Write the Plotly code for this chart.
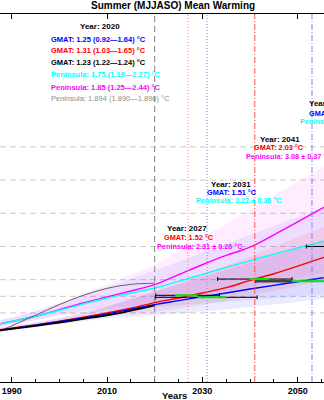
import plotly.graph_objects as go

# ---------------- data ----------------
years = [1985, 1990, 1995, 2000, 2005, 2010, 2015, 2020, 2025, 2030, 2035, 2040, 2045, 2050, 2055, 2060]
gmat_blue = [0.43, 0.53, 0.63, 0.74, 0.85, 0.97, 1.11, 1.25, 1.37, 1.49, 1.60, 1.72, 1.83, 1.94, 2.05, 2.16]
gmat_red = [0.45, 0.54, 0.64, 0.75, 0.87, 1.00, 1.14, 1.31, 1.45, 1.60, 1.76, 1.98, 2.18, 2.41, 2.65, 2.90]
pen_cyan = [0.60, 0.74, 0.90, 1.08, 1.27, 1.45, 1.60, 1.75, 1.95, 2.16, 2.37, 2.57, 2.77, 2.96, 3.14, 3.32]
pen_magenta = [0.60, 0.74, 0.90, 1.10, 1.30, 1.48, 1.66, 1.85, 2.15, 2.45, 2.73, 2.98, 3.35, 3.74, 4.14, 4.55]

obs_years = [1985, 1990, 1995, 2000, 2005, 2010, 2015, 2020]
gmat_obs = [0.43, 0.52, 0.61, 0.71, 0.82, 0.93, 1.07, 1.23]
pen_obs = [0.30, 0.61, 0.93, 1.25, 1.53, 1.74, 1.86, 1.894]

# uncertainty bands (lower / upper)
blue_lo = [0.38, 0.47, 0.56, 0.64, 0.74, 0.84, 0.88, 0.92, 0.98, 1.04, 1.10, 1.17, 1.25, 1.33, 1.42, 1.52]
blue_hi = [0.50, 0.60, 0.71, 0.85, 1.00, 1.20, 1.42, 1.64, 1.86, 2.08, 2.30, 2.52, 2.74, 2.96, 3.18, 3.40]
red_lo = [0.40, 0.49, 0.58, 0.68, 0.80, 0.91, 0.97, 1.03, 1.13, 1.24, 1.36, 1.50, 1.64, 1.79, 1.95, 2.10]
red_hi = [0.52, 0.61, 0.72, 0.84, 0.99, 1.18, 1.41, 1.65, 1.90, 2.15, 2.42, 2.70, 2.98, 3.27, 3.56, 3.85]
cyan_lo = [0.52, 0.64, 0.78, 0.92, 1.00, 1.07, 1.12, 1.16, 1.22, 1.28, 1.33, 1.39, 1.44, 1.50, 1.55, 1.60]
cyan_hi = [0.70, 0.86, 1.05, 1.28, 1.52, 1.77, 2.02, 2.27, 2.54, 2.81, 3.08, 3.35, 3.62, 3.89, 4.16, 4.43]
mag_lo = [0.52, 0.64, 0.78, 0.95, 1.07, 1.15, 1.20, 1.25, 1.38, 1.52, 1.65, 1.78, 1.92, 2.05, 2.18, 2.30]
mag_hi = [0.70, 0.86, 1.06, 1.30, 1.58, 1.88, 2.16, 2.44, 2.86, 3.27, 3.69, 4.10, 4.52, 4.94, 5.36, 5.77]

# threshold-crossing uncertainty bars
bar_level = [1.53, 1.47, 2.02, 1.95, 3.00]
bar_lo = [2020.2, 2020.2, 2033.2, 2041.2, 2051.8]
bar_hi = [2033.6, 2041.5, 2048.8, 2062.0, 2062.0]
green_lo = [2024.3, 2029.0, 2039.9, 2048.7, 2056.0]
green_hi = [2029.0, 2035.0, 2044.0, 2062.0, 2062.0]
dark_lo = [2041.2]
dark_hi = [2048.7]
dark_level = [1.95]

# vertical marker years
vline_years = [2020, 2027, 2031, 2041, 2053]
grid_vals = [1, 1.5, 2, 3, 4, 5, 6]

tick_vals = [1990, 2010, 2030, 2050]

# annotation values
y2020_gmat = [(1.25, 0.92, 1.64), (1.31, 1.03, 1.65), (1.23, 1.22, 1.24)]
y2020_pen = [(1.75, 1.16, 2.27), (1.85, 1.25, 2.44)]
y2020_pen_obs = (1.894, 1.890, 1.896)
cross_years = [2027, 2031, 2041, 2053]
cross_gmat = [1.52, 1.51, 2.03, 2.01]
cross_pen = [(2.31, 0.26), (2.22, 0.36), (3.08, 0.37), (3.12, 0.45)]

# ---------------- figure ----------------
W, H = 324, 400
TOP, BOT = 14, 382
FONT = "Liberation Sans, Arial, sans-serif"

fig = go.Figure()


def band(lo, hi, color):
    fig.add_trace(go.Scatter(x=years + years[::-1], y=hi + lo[::-1], fill="toself",
                             fillcolor=color, line=dict(width=0), mode="lines",
                             hoverinfo="skip", showlegend=False))


band(cyan_lo, cyan_hi, "rgba(90,90,255,0.10)")
band(mag_lo, mag_hi, "rgba(255,0,255,0.07)")
band(blue_lo, blue_hi, "rgba(0,0,255,0.08)")
band(red_lo, red_hi, "rgba(255,0,0,0.08)")


def line(x, y, color, width, dash="solid"):
    fig.add_trace(go.Scatter(x=x, y=y, mode="lines", line=dict(color=color, width=width, dash=dash, shape="spline"),
                             showlegend=False, hoverinfo="skip"))


line(years, pen_magenta, "#ff00ff", 1.4)
line(years, pen_cyan, "#00ffff", 1.4)
line(obs_years, pen_obs, "#555555", 0.9)
line(years, gmat_red, "#ff0000", 1.4)
line(years, gmat_blue, "#0000ff", 1.4)
line(obs_years, gmat_obs, "#000000", 1.8)

# crossing bars
mid = [(a + b) / 2 for a, b in zip(bar_lo, bar_hi)]
half = [(b - a) / 2 for a, b in zip(bar_lo, bar_hi)]
fig.add_trace(go.Scatter(x=mid, y=bar_level, mode="markers", marker=dict(size=0.1, color="rgba(0,0,0,0)"),
                         error_x=dict(type="data", array=half, color="black", thickness=1, width=2),
                         showlegend=False, hoverinfo="skip"))
for a, b, lv in zip(dark_lo, dark_hi, dark_level):
    fig.add_trace(go.Scatter(x=[a, b], y=[lv, lv], mode="lines", line=dict(color="#444444", width=2.5),
                             showlegend=False, hoverinfo="skip"))
for a, b, lv in zip(green_lo, green_hi, bar_level):
    fig.add_trace(go.Scatter(x=[a, b], y=[lv, lv], mode="lines", line=dict(color="#00ee00", width=2),
                             showlegend=False, hoverinfo="skip"))

# horizontal dashed grid
for g in grid_vals:
    fig.add_hline(y=g, line=dict(color="#c8c8c8", width=1, dash="6px,4px"), layer="below")

# vertical marker lines
vstyles = [("#808080", "6px,4px"), ("#ff8080", "1px,2px"), ("#8080ff", "1px,2px"),
           ("#ff5050", "6px,2px,1px,2px"), ("#8080ff", "6px,2px,1px,2px")]
for yr, (c, d) in zip(vline_years, vstyles):
    fig.add_vline(x=yr, line=dict(color=c, width=1, dash=d))


def ppx(x):
    return x / W


def ppy(y):
    return (BOT - y) / (BOT - TOP)


def ann(text, x, y, color, size, anchor="center", bold=True):
    t = f"<b>{text}</b>" if bold else text
    fig.add_annotation(x=ppx(x), y=ppy(y), xref="paper", yref="paper", text=t, showarrow=False,
                       xanchor=anchor, yanchor="middle", font=dict(family=FONT, size=size, color=color))


# title / axis title
ann("Summer (MJJASO) Mean Warming", 173, 5, "black", 10)
ann("Years", 174, 395, "black", 9.5)

# 2020 block
ann("Year: 2020", 100, 26, "black", 8)
cols = ["#0000ff", "#ff0000", "#000000"]
ys = [39, 50.7, 62.3]
for (v, lo, hi), c, y in zip(y2020_gmat, cols, ys):
    ann(f"GMAT: {v:.2f} ({lo:.2f}\u2014{hi:.2f}) \u00b0C", 49, y, c, 7.5, "left")
for (v, lo, hi), c, y in zip(y2020_pen, ["#00ffff", "#ff00ff"], [74.7, 87]):
    ann(f"Peninsula: {v:.2f} ({lo:.2f}\u2014{hi:.2f}) \u00b0C", 49, y, c, 7.5, "left")
v, lo, hi = y2020_pen_obs
ann(f"Peninsula: {v:.3f} ({lo:.3f}\u2014{hi:.3f}) \u00b0C", 49, 99, "#8c8c8c", 7.5, "left", bold=False)

# crossing blocks
gcols = ["#ff0000", "#0000ff", "#ff0000", "#0000ff"]
pcols = ["#ff00ff", "#00ffff", "#ff00ff", "#00ffff"]
blocks = [(186.5, 228.3, 188.5, 237.3, 199.5, 246.3, "center"),
          (231, 184.6, 232, 192.2, 239.5, 200.6, "center"),
          (279.5, 139, 278.7, 147.3, 289, 156, "center"),
          (307, 104, 307, 113, 298, 122, "left")]
for yr, gv, (pv, pe), gc, pc, b in zip(cross_years, cross_gmat, cross_pen, gcols, pcols, blocks):
    ann(f"Year: {yr}", b[0], b[1], "black", 8, b[6])
    ann(f"GMAT: {gv:.2f} \u00b0C", b[2], b[3], gc, 7.3, b[6])
    ann(f"Peninsula: {pv:.2f} \u00b1 {pe:.2f} \u00b0C", b[4], b[5], pc, 7.3, b[6])

xr = [1987.55, 2055.52]
fig.update_layout(
    width=W, height=H, margin=dict(l=0, r=0, t=TOP, b=H - BOT),
    plot_bgcolor="white", paper_bgcolor="white", showlegend=False,
    xaxis=dict(range=xr, tickvals=tick_vals, ticktext=[f"<b>{v}</b>" for v in tick_vals],
               ticks="inside", ticklen=5, tickcolor="black", showline=True, linecolor="black", linewidth=1,
               mirror=False, showgrid=False, zeroline=False,
               tickfont=dict(family=FONT, size=9, color="black"),
               minor=dict(dtick=5, tick0=1990, ticks="inside", ticklen=3, tickcolor="black")),
    xaxis2=dict(range=xr, overlaying="x", side="top", tickvals=tick_vals, ticks="inside", ticklen=5,
                tickcolor="black", showline=True, linecolor="black", showticklabels=False,
                showgrid=False, zeroline=False),
    yaxis=dict(range=[-1.08, 10.0], showticklabels=False, showgrid=False, zeroline=False, showline=False, ticks=""),
)
fig.add_trace(go.Scatter(x=[2000], y=[0], xaxis="x2", mode="markers", marker=dict(opacity=0),
                         showlegend=False, hoverinfo="skip"))

fig.write_html("out.html", config={"displayModeBar": False},
               post_script="document.body.style.margin='0';document.body.style.padding='0';")
